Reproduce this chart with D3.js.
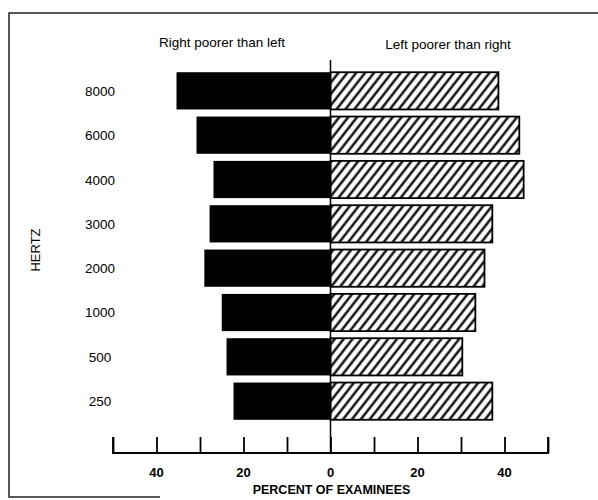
<!DOCTYPE html>
<html>
<head>
<meta charset="utf-8">
<script src="https://cdn.jsdelivr.net/npm/d3@7"></script>
<style>
  body { margin: 0; background: #fff; }
  text { font-family: "Liberation Sans", Arial, sans-serif; fill: #000; }
</style>
</head>
<body>
<svg id="chart" width="598" height="500"></svg>
<script>
  var hertz = ['8000', '6000', '4000', '3000', '2000', '1000', '500', '250'];
  var rightPoorer = [35.4, 30.8, 26.9, 27.8, 29, 25, 23.9, 22.3];
  var leftPoorer = [38.6, 43.4, 44.4, 37.2, 35.4, 33.3, 30.3, 37.2];
  var tickValues = [-50, -40, -30, -20, -10, 0, 10, 20, 30, 40, 50];
  var tickLabels = [-40, -20, 0, 20, 40];

  var svg = d3.select('#chart');

  var x = d3.scaleLinear().domain([-50, 50]).range([113, 548]);
  var y = d3.scaleBand().domain(hertz).range([70, 422]).paddingInner(0.16).paddingOuter(0.05);

  // hatch pattern
  var defs = svg.append('defs');
  var pat = defs.append('pattern')
    .attr('id', 'hatch')
    .attr('patternUnits', 'userSpaceOnUse')
    .attr('width', 7).attr('height', 7)
    .attr('patternTransform', 'rotate(38)');
  pat.append('rect').attr('width', 7).attr('height', 7).attr('fill', '#fff');
  pat.append('line')
    .attr('x1', 3.5).attr('y1', 0).attr('x2', 3.5).attr('y2', 7)
    .attr('stroke', '#000').attr('stroke-width', 2.3);

  // frame
  svg.append('path')
    .attr('d', 'M598,13 L9,13 L9,497 L160,497')
    .attr('fill', 'none').attr('stroke', '#222').attr('stroke-width', 1.5);

  // headers
  svg.append('text').attr('x', 222).attr('y', 47).attr('text-anchor', 'middle')
    .style('font-size', '13.5px').text('Right poorer than left');
  svg.append('text').attr('x', 448).attr('y', 49).attr('text-anchor', 'middle')
    .style('font-size', '13.5px').text('Left poorer than right');

  // bars
  svg.selectAll('.left').data(hertz).enter().append('rect')
    .attr('class', 'left')
    .attr('x', function(d, i) { return x(-rightPoorer[i]); })
    .attr('y', function(d) { return y(d); })
    .attr('width', function(d, i) { return x(0) - x(-rightPoorer[i]); })
    .attr('height', y.bandwidth())
    .attr('fill', '#000');

  svg.selectAll('.right').data(hertz).enter().append('rect')
    .attr('class', 'right')
    .attr('x', x(0))
    .attr('y', function(d) { return y(d); })
    .attr('width', function(d, i) { return x(leftPoorer[i]) - x(0); })
    .attr('height', y.bandwidth())
    .attr('fill', 'url(#hatch)')
    .attr('stroke', '#000').attr('stroke-width', 1.8);

  // zero line
  svg.append('line')
    .attr('x1', x(0)).attr('x2', x(0)).attr('y1', 60).attr('y2', 453)
    .attr('stroke', '#000').attr('stroke-width', 1.5);

  // hertz labels
  svg.selectAll('.hz').data(hertz).enter().append('text')
    .attr('class', 'hz')
    .attr('x', 100)
    .attr('y', function(d) { return y(d) + y.bandwidth() / 2 + 5; })
    .attr('text-anchor', 'middle')
    .style('font-size', '13.5px')
    .text(function(d) { return d; });

  svg.append('text')
    .attr('transform', 'translate(40,250) rotate(-90)')
    .attr('text-anchor', 'middle')
    .style('font-size', '13px')
    .text('HERTZ');

  // x axis
  var xAxis = d3.axisTop(x)
    .tickValues(tickValues)
    .tickSize(16)
    .tickFormat('');
  var gx = svg.append('g').attr('transform', 'translate(0,453)').call(xAxis);
  gx.select('.domain').attr('stroke', '#000').attr('stroke-width', 1.8)
    .attr('d', 'M' + x(-50) + ',-16V0H' + x(50) + 'V-16');
  gx.selectAll('.tick line').attr('stroke', '#000').attr('stroke-width', 1.8);

  svg.selectAll('.xl').data(tickLabels).enter().append('text')
    .attr('class', 'xl')
    .attr('x', function(d) { return x(d); })
    .attr('y', 477)
    .attr('text-anchor', 'middle')
    .style('font-size', '13px').style('font-weight', 'bold')
    .text(function(d) { return Math.abs(d); });

  svg.append('text').attr('x', x(0) + 1).attr('y', 494).attr('text-anchor', 'middle')
    .style('font-size', '12.5px').style('font-weight', 'bold')
    .text('PERCENT OF EXAMINEES');
</script>
</body>
</html>
